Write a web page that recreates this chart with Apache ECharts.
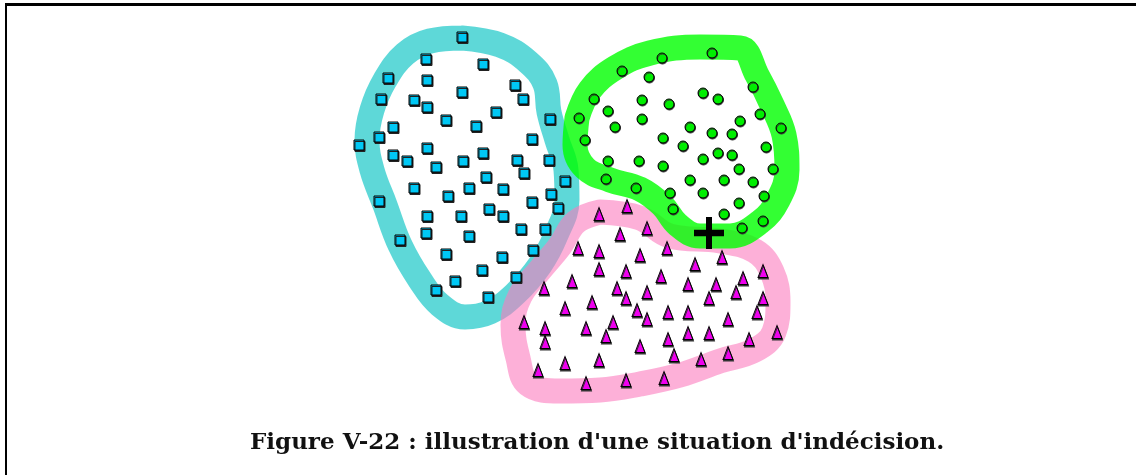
<!DOCTYPE html>
<html>
<head>
<meta charset="utf-8">
<script src="https://cdn.jsdelivr.net/npm/echarts@6/dist/echarts.min.js"></script>
<style>
	* { margin: 0; padding: 0; }
	body { background: #fff; }
	#main { position: absolute; left: 0; top: 0; width: 1136px; height: 475px; }
	.frame-top { position: absolute; left: 5px; top: 3px; width: 1131px; height: 3px; background: #000; }
	.frame-left { position: absolute; left: 5px; top: 3px; width: 2px; height: 472px; background: #000; }
</style>
</head>
<body>
<div id="main"></div>
<div class="frame-top"></div>
<div class="frame-left"></div>
<script>
	// positions, in pixels (x to the right, y downwards)
	var squares = [
		[462, 37], [426, 59], [483, 64], [388, 78], [427, 80], [515, 85], [462, 92],
		[381, 99], [414, 100], [523, 99], [427, 107], [496, 112], [550, 119], [446, 120],
		[476, 126], [393, 127], [379, 137], [532, 139], [359, 145], [427, 148], [483, 153],
		[393, 155], [407, 161], [463, 161], [517, 160], [549, 160], [436, 167], [524, 173],
		[486, 177], [565, 181], [414, 188], [469, 188], [503, 189], [551, 194], [448, 196],
		[379, 201], [532, 202], [558, 208], [489, 209], [427, 216], [461, 216], [503, 216],
		[521, 229], [545, 229], [426, 233], [469, 236], [400, 240], [533, 250], [446, 254],
		[502, 257], [482, 270], [516, 277], [455, 281], [436, 290], [488, 297]
	];
	var circles = [
		[712, 53], [662, 58], [622, 71], [649, 77], [753, 87], [703, 93], [594, 99],
		[642, 100], [718, 99], [669, 104], [608, 111], [760, 114], [579, 118], [642, 119],
		[740, 121], [615, 127], [690, 127], [781, 128], [712, 133], [732, 134], [663, 138],
		[585, 140], [683, 146], [766, 147], [718, 153], [732, 155], [703, 159], [608, 161],
		[639, 161], [663, 166], [739, 169], [773, 169], [606, 179], [690, 180], [724, 180],
		[753, 182], [636, 188], [670, 193], [703, 193], [764, 196], [739, 203], [673, 209],
		[724, 214], [763, 221], [742, 228]
	];
	var triangles = [
		[627, 206], [599, 214], [647, 228], [620, 234], [578, 248], [667, 248], [599, 251],
		[640, 255], [722, 257], [695, 264], [599, 269], [626, 271], [763, 271], [661, 276],
		[743, 278], [572, 281], [688, 284], [716, 284], [544, 288], [617, 288], [647, 292],
		[736, 292], [626, 298], [709, 298], [763, 298], [592, 302], [565, 308], [637, 310],
		[668, 312], [688, 312], [757, 312], [647, 319], [728, 319], [524, 322], [613, 322],
		[545, 328], [586, 328], [777, 332], [688, 333], [709, 333], [606, 336], [668, 339],
		[749, 339], [545, 342], [640, 346], [728, 353], [674, 355], [701, 359], [599, 360],
		[565, 363], [538, 370], [664, 378], [626, 380], [586, 383]
	];
	var crossPoint = [[709, 233]];

	// centre lines of the hand-drawn outlines
	var cyanOutline = [
		[462, 38], [500, 45], [528, 62], [545, 84], [549, 112], [557, 140], [566, 170],
		[567, 200], [556, 235], [540, 265], [515, 294], [490, 312], [465, 317], [440, 305],
		[420, 280], [400, 245], [385, 205], [372, 170], [367, 140], [372, 110], [385, 80],
		[405, 54], [430, 41], [462, 38]
	];
	var greenOutline = [
		[577, 118], [590, 90], [615, 68], [650, 53], [700, 47], [740, 48], [757, 75],
		[772, 105], [784, 135], [787, 170], [778, 200], [760, 222], [730, 236], [700, 236],
		[678, 225], [662, 205], [640, 189], [610, 180], [585, 168], [575, 145], [577, 118]
	];
	var pinkOutline = [
		[600, 212], [640, 218], [670, 236], [720, 241], [755, 251], [772, 272], [778, 302],
		[774, 332], [755, 350], [720, 361], [680, 375], [640, 384], [600, 390], [560, 391],
		[528, 384], [518, 358], [513, 325], [520, 296], [540, 270], [560, 246], [576, 222],
		[600, 212]
	];

	var caption = "Figure V-22 : illustration d'une situation d'indécision.";

	var chart = echarts.init(document.getElementById('main'));

	function outline(data, color, opacity, z) {
		return {
			type: 'line',
			data: data,
			smooth: 0.4,
			symbol: 'none',
			silent: true,
			z: z,
			lineStyle: { color: color, width: 25, opacity: opacity, cap: 'round', join: 'round' }
		};
	}

	chart.setOption({
		animation: false,
		grid: { left: 0, right: 0, top: 0, bottom: 0 },
		xAxis: { type: 'value', min: 0, max: 1136, show: false },
		yAxis: { type: 'value', min: 0, max: 475, inverse: true, show: false },
		title: {
			text: caption,
			left: 245,
			top: 427,
			textStyle: {
				fontFamily: 'DejaVu Serif',
				fontWeight: 'bold',
				fontSize: 23,
				color: '#111'
			}
		},
		series: [
			outline(cyanOutline, 'rgb(26,199,199)', 0.7, 1),
			outline(pinkOutline, 'rgb(252,123,190)', 0.6, 2),
			outline(greenOutline, 'rgb(0,255,0)', 0.8, 3),
			{
				type: 'scatter',
				data: squares,
				symbol: 'rect',
				symbolSize: 10,
				z: 5,
				itemStyle: {
					color: '#00c8f5', opacity: 1, borderColor: '#000', borderWidth: 1,
					shadowColor: '#222', shadowOffsetX: 1, shadowOffsetY: 1.5, shadowBlur: 0
				}
			},
			{
				type: 'scatter',
				data: circles,
				symbol: 'circle',
				symbolSize: 10,
				z: 5,
				itemStyle: {
					color: '#00ee00', opacity: 1, borderColor: '#000', borderWidth: 1,
					shadowColor: '#333', shadowOffsetX: 0.5, shadowOffsetY: 1, shadowBlur: 0
				}
			},
			{
				type: 'scatter',
				data: triangles,
				symbol: 'triangle',
				symbolSize: [10, 13],
				z: 5,
				itemStyle: {
					color: '#ee00ee', opacity: 1, borderColor: '#000', borderWidth: 1,
					shadowColor: '#333', shadowOffsetX: 0.5, shadowOffsetY: 1.5, shadowBlur: 0
				}
			},
			{
				type: 'scatter',
				data: crossPoint,
				symbol: 'path://M12,0H18V12H30V18H18V30H12V18H0V12H12Z',
				symbolSize: [30, 32],
				z: 6,
				itemStyle: { color: '#000', opacity: 1 }
			}
		]
	});
</script>
</body>
</html>
